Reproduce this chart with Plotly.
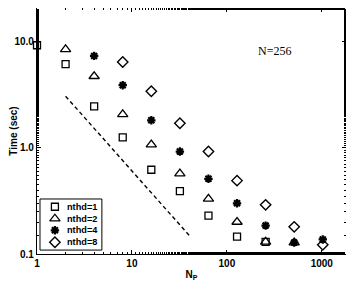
import plotly.graph_objects as go

x_nthd1 = [1, 2, 4, 8, 16, 32, 64, 128, 256]
t_nthd1 = [9.2, 6.1, 2.45, 1.25, 0.62, 0.39, 0.23, 0.146, 0.13]

x_nthd2 = [2, 4, 8, 16, 32, 64, 128, 256, 512]
t_nthd2 = [8.4, 4.7, 2.06, 1.07, 0.57, 0.33, 0.2, 0.13, 0.128]

x_nthd4 = [4, 8, 16, 32, 64, 128, 256, 512, 1024]
t_nthd4 = [7.3, 3.87, 1.81, 0.92, 0.51, 0.30, 0.185, 0.128, 0.137]

x_nthd8 = [8, 16, 32, 64, 128, 256, 512, 1024]
t_nthd8 = [6.4, 3.4, 1.7, 0.92, 0.49, 0.29, 0.18, 0.122]

ideal_x = [2, 40]
ideal_t = [3.05, 0.15]

series_names = ["nthd=1", "nthd=2", "nthd=4", "nthd=8"]

x_ticks = [1, 10, 100, 1000]
x_ticktext = ["1", "10", "100", "1000"]
y_ticks = [0.1, 1, 10]
y_ticktext = ["0.1", "1.0", "10.0"]

styles = [
    dict(symbol="square-open", size=7, color="black", line=dict(width=1.3, color="black")),
    dict(symbol="triangle-up-open", size=9, color="black", line=dict(width=1.3, color="black")),
    dict(symbol="asterisk-open", size=7, color="black", line=dict(width=2.2, color="black")),
    dict(symbol="diamond-open", size=8, color="black", line=dict(width=1.4, color="black")),
]

fig = go.Figure()
for name, xs, ys, mk in zip(series_names, [x_nthd1, x_nthd2, x_nthd4, x_nthd8],
                            [t_nthd1, t_nthd2, t_nthd4, t_nthd8], styles):
    fig.add_trace(go.Scatter(x=xs, y=ys, mode="markers", name=name, marker=mk,
                             cliponaxis=False, showlegend=False))

fig.add_trace(go.Scatter(x=ideal_x, y=ideal_t, mode="lines", showlegend=False,
                         line=dict(color="black", width=1.4, dash="4px,3px")))

# Compact legend drawn on an auxiliary [0,1] axis pair
leg_sym_x = 0.058
leg_txt_x = 0.092
leg_ys = [0.192, 0.1435, 0.0963, 0.0476]
for name, mk, ly in zip(series_names, styles, leg_ys):
    fig.add_trace(go.Scatter(x=[leg_sym_x], y=[ly], mode="markers", marker=mk,
                             xaxis="x2", yaxis="y2", showlegend=False, hoverinfo="skip"))
    fig.add_annotation(x=leg_txt_x, y=ly, xref="paper", yref="paper", text=name,
                       showarrow=False, xanchor="left", yanchor="middle",
                       font=dict(family="Liberation Sans", size=9.2, color="black", weight="bold"))
fig.add_shape(type="rect", xref="paper", yref="paper", x0=0.0097, x1=0.21, y0=0.016, y1=0.2236,
              line=dict(color="black", width=1), fillcolor="rgba(0,0,0,0)", layer="above")

fig.add_annotation(x=0.828, y=0.862, xref="paper", yref="paper", text="N=256", showarrow=False,
                   font=dict(family="Liberation Serif", size=12, color="black"))

axis_common = dict(
    showline=True, linecolor="black", linewidth=1.2, mirror="allticks",
    ticks="inside", ticklen=4, tickcolor="black", showgrid=False, zeroline=False,
    automargin=False,
    tickfont=dict(family="Liberation Sans", size=10, color="black", weight="bold"),
    minor=dict(ticks="inside", ticklen=2, tickcolor="black", showgrid=False),
)

# The page body adds an 8px offset, so the figure is sized to fit the remaining window
fig.update_layout(
    width=346, height=274,
    margin=dict(l=29, r=8, t=0, b=28),
    paper_bgcolor="white", plot_bgcolor="white",
    xaxis=dict(type="log", range=[0, 3.255], tickvals=x_ticks, ticktext=x_ticktext,
               title=dict(text="N<sub>P</sub>", standoff=2,
                          font=dict(family="Liberation Sans", size=10, color="black", weight="bold")),
               **axis_common),
    yaxis=dict(type="log", range=[-1, 1.314], tickvals=y_ticks, ticktext=y_ticktext,
               title=dict(text="Time (sec)", standoff=4,
                          font=dict(family="Liberation Sans", size=10, color="black", weight="bold")),
               **axis_common),
    xaxis2=dict(overlaying="x", range=[0, 1], visible=False, fixedrange=True),
    yaxis2=dict(overlaying="y", range=[0, 1], visible=False, fixedrange=True),
    showlegend=False,
)

fig.write_html("out.html")
